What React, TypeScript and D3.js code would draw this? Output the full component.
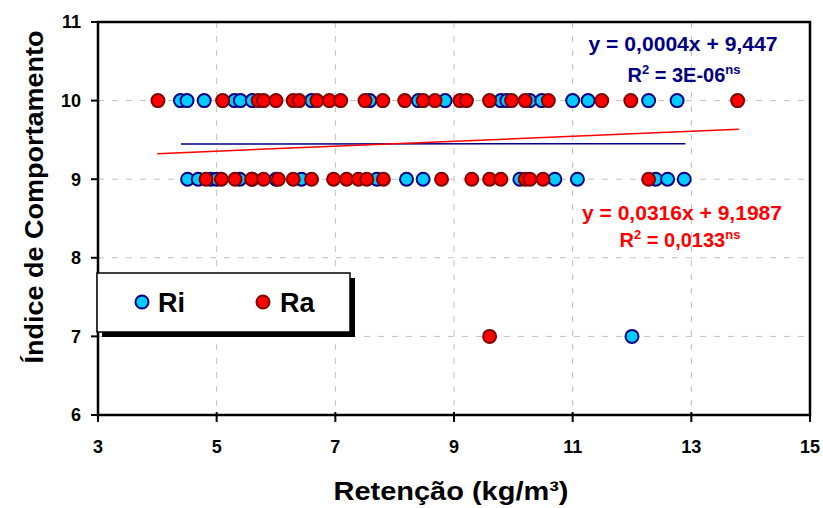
import React from "react";
import * as d3 from "d3";

const riTop = [4.39, 4.5, 4.79, 5.3, 5.4, 5.6, 6.6, 7.58, 8.4, 8.85, 9.79, 9.89, 10.28, 10.48, 11.0, 11.26, 12.28, 12.76];
const riMid = [4.51, 4.69, 4.9, 5.0, 5.39, 5.6, 6.0, 6.43, 7.7, 8.2, 8.48, 10.11, 10.7, 11.08, 12.4, 12.6, 12.88];
const riLow = [12.0];
const raTop = [4.01, 5.1, 5.7, 5.79, 6.0, 6.29, 6.39, 6.69, 6.9, 7.09, 7.5, 7.8, 8.17, 8.48, 8.68, 9.1, 9.21, 9.6, 9.97, 10.2, 10.59, 11.49, 11.98, 13.78];
const raMid = [4.82, 5.08, 5.31, 5.59, 5.79, 6.04, 6.29, 6.6, 6.97, 7.19, 7.39, 7.53, 7.81, 8.79, 9.3, 9.6, 9.79, 10.2, 10.28, 10.5, 12.28];
const raLow = [9.6];

const xTicks = [3, 5, 7, 9, 11, 13, 15];
const yTicks = [6, 7, 8, 9, 10, 11];

const riFit = { slope: 0.0004, intercept: 9.447, x0: 4.4, x1: 12.9 };
const raFit = { slope: 0.0316, intercept: 9.1987, x0: 4.0, x1: 13.8 };

const W = 823, H = 508;
const L = 98, R = 810, T = 22, B = 415;

export default function App() {
  const x = d3.scaleLinear().domain([3, 15]).range([L, R]);
  const y = d3.scaleLinear().domain([6, 11]).range([B, T]);
  const font = "Arial, 'Liberation Sans', sans-serif";

  const toPts = (xs: number[], v: number) => xs.map((d) => [d, v] as [number, number]);
  const ri = [...toPts(riTop, 10), ...toPts(riMid, 9), ...toPts(riLow, 7)];
  const ra = [...toPts(raTop, 10), ...toPts(raMid, 9), ...toPts(raLow, 7)];

  const fitLine = (f: typeof riFit) =>
    d3.line<number>().x((d) => x(d)).y((d) => y(f.slope * d + f.intercept))([f.x0, f.x1]) || "";

  return (
    <svg width={W} height={H} style={{ position: "absolute", left: 0, top: 0, background: "#fff" }}>
      {yTicks.slice(1, -1).map((t) => (
        <line key={"gy" + t} x1={L} x2={R} y1={y(t)} y2={y(t)} stroke="#c0c0c0" strokeWidth={1} strokeDasharray="6,8" />
      ))}
      {xTicks.slice(1, -1).map((t) => (
        <line key={"gx" + t} x1={x(t)} x2={x(t)} y1={T} y2={B} stroke="#c0c0c0" strokeWidth={1} strokeDasharray="6,8" />
      ))}
      <rect x={L} y={T} width={R - L} height={B - T} fill="none" stroke="#000" strokeWidth={2.5} />
      {yTicks.map((t) => (
        <line key={"ty" + t} x1={L - 7} x2={L} y1={y(t)} y2={y(t)} stroke="#000" strokeWidth={2} />
      ))}
      {xTicks.map((t) => (
        <line key={"tx" + t} x1={x(t)} x2={x(t)} y1={B - 3} y2={B + 7} stroke="#000" strokeWidth={2} />
      ))}
      {yTicks.map((t) => (
        <text key={"ly" + t} x={L - 17} y={y(t)} dy="0.35em" textAnchor="end" fontFamily={font} fontWeight="bold" fontSize={18}>
          {t}
        </text>
      ))}
      {xTicks.map((t) => (
        <text key={"lx" + t} x={x(t)} y={453} textAnchor="middle" fontFamily={font} fontWeight="bold" fontSize={18}>
          {t}
        </text>
      ))}
      <text x={451} y={500} textAnchor="middle" fontFamily={font} fontWeight="bold" fontSize={25} textLength={235} lengthAdjust="spacingAndGlyphs">
        Retenção (kg/m³)
      </text>
      <text transform="translate(43,197) rotate(-90)" textAnchor="middle" fontFamily={font} fontWeight="bold" fontSize={26} textLength={333} lengthAdjust="spacingAndGlyphs">
        Índice de Comportamento
      </text>
      {ri.map((p, i) => (
        <circle key={"ri" + i} cx={x(p[0])} cy={y(p[1])} r={6.5} fill="#00ccff" stroke="#000080" strokeWidth={2} />
      ))}
      {ra.map((p, i) => (
        <circle key={"ra" + i} cx={x(p[0])} cy={y(p[1])} r={6.5} fill="#ff0000" stroke="#800000" strokeWidth={2} />
      ))}
      <path d={fitLine(riFit)} stroke="#000080" strokeWidth={1.5} fill="none" />
      <path d={fitLine(raFit)} stroke="#ff0000" strokeWidth={1.5} fill="none" />
      <g fontFamily={font} fontWeight="bold" fontSize={20} textAnchor="middle">
        <text x={683} y={51} fill="#000080" textLength={189} lengthAdjust="spacingAndGlyphs">y = 0,0004x + 9,447</text>
        <text x={684} y={82} fill="#000080">
          R<tspan dy={-8} fontSize={13}>2</tspan><tspan dy={8}> = 3E-06</tspan><tspan dy={-8} fontSize={13}>ns</tspan>
        </text>
        <text x={682} y={220} fill="#ff0000" textLength={200} lengthAdjust="spacingAndGlyphs">y = 0,0316x + 9,1987</text>
        <text x={680} y={247} fill="#ff0000">
          R<tspan dy={-8} fontSize={13}>2</tspan><tspan dy={8}> = 0,0133</tspan><tspan dy={-8} fontSize={13}>ns</tspan>
        </text>
      </g>
      <rect x={102} y={278} width={253} height={59} fill="#000" />
      <rect x={97} y={273} width={253} height={59} fill="#fff" stroke="#000" strokeWidth={1.5} />
      <circle cx={142} cy={302} r={6.5} fill="#00ccff" stroke="#000080" strokeWidth={2} />
      <text x={158} y={312} fontFamily={font} fontWeight="bold" fontSize={27}>Ri</text>
      <circle cx={263} cy={302} r={6.5} fill="#ff0000" stroke="#800000" strokeWidth={2} />
      <text x={280} y={312} fontFamily={font} fontWeight="bold" fontSize={27}>Ra</text>
    </svg>
  );
}
